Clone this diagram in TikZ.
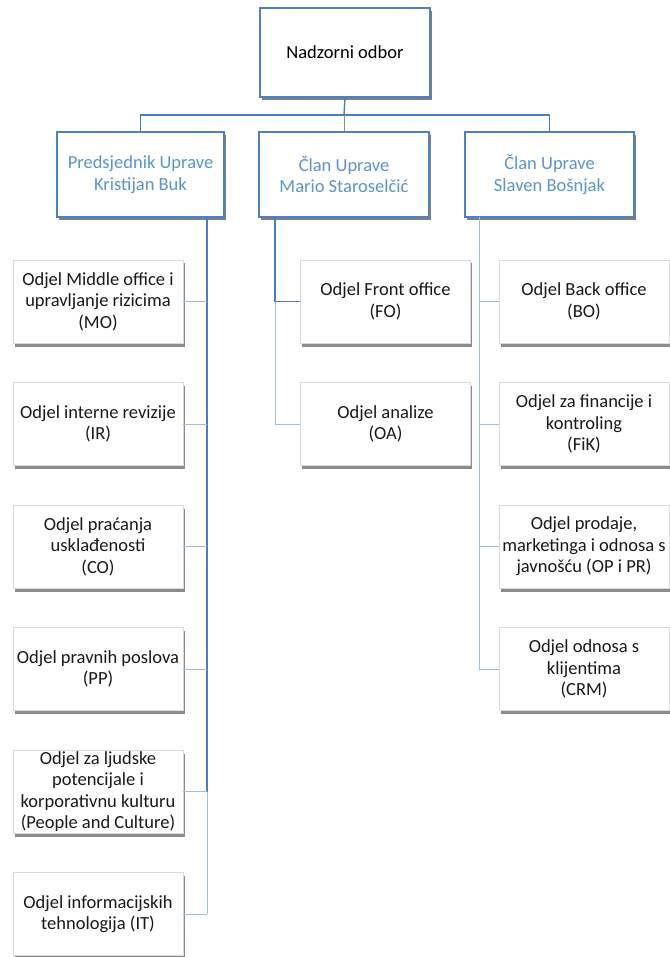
\documentclass[tikz,border=0pt]{standalone}
\usepackage{fontspec}
\setmainfont{Carlito}
\usepackage{xcolor}

\definecolor{okvir}{HTML}{4F81BD}
\definecolor{upravatekst}{HTML}{5B95CC}
\definecolor{veza}{HTML}{4A7EBB}
\definecolor{vezasvijetla}{HTML}{9DBFE3}

\begin{document}
\begin{tikzpicture}[x=1pt,y=-1pt,
	font=\fontsize{18.5}{21.5}\selectfont,
	sjena/.style={preaction={fill=black!#1,draw=none,transform canvas={xshift=1.5pt,yshift=-3.5pt}}},
	vrh/.style={draw=okvir,line width=1.6pt,fill=white,align=center,inner sep=0pt,sjena=50},
	uprava/.style={vrh,text=upravatekst,minimum height=85pt},
	odjel/.style={draw=black!14,line width=0.8pt,fill=white,align=center,inner sep=0pt,
		text=black!90,minimum width=170pt,minimum height=83pt,sjena=45},
	glavna/.style={draw=veza,line width=1.4pt},
	sporedna/.style={draw=vezasvijetla,line width=1pt}]

	\useasboundingbox (0,0) rectangle (669,957);

	\node[vrh,minimum width=170pt,minimum height=89pt] (nadzor) at (345,52.5) {Nadzorni odbor};

	\node[uprava,minimum width=167pt] (predsjednik) at (140.5,174.5) {Predsjednik Uprave\\Kristijan Buk};
	\node[uprava,minimum width=170pt] (clanmario) at (344,174.5) {Član Uprave\\Mario Staroselčić};
	\node[uprava,minimum width=169pt] (clanslaven) at (549.5,174.5) {Član Uprave\\Slaven Bošnjak};

	\node[odjel] (mo) at (98,301.5) {Odjel Middle office i\\upravljanje rizicima\\(MO)};
	\node[odjel] (ir) at (98,424) {Odjel interne revizije\\(IR)};
	\node[odjel] (co) at (98,546.5) {Odjel praćanja\\usklađenosti\\(CO)};
	\node[odjel] (pp) at (98,669) {Odjel pravnih poslova\\(PP)};
	\node[odjel] (pc) at (98,791.5) {Odjel za ljudske\\potencijale i\\korporativnu kulturu\\(People and Culture)};
	\node[odjel] (it) at (98,914) {Odjel informacijskih\\tehnologija (IT)};

	\node[odjel] (fo) at (385.5,301.5) {Odjel Front office\\(FO)};
	\node[odjel] (oa) at (385.5,424) {Odjel analize\\(OA)};

	\node[odjel] (bo) at (584,301.5) {Odjel Back office\\(BO)};
	\node[odjel] (fik) at (584,424) {Odjel za financije i\\kontroling\\(FiK)};
	\node[odjel] (op) at (584,546.5) {Odjel prodaje,\\marketinga i odnosa s\\javnošću (OP i PR)};
	\node[odjel] (crm) at (584,669) {Odjel odnosa s\\klijentima\\(CRM)};

	\coordinate (sabirnica) at (344,115);
	\coordinate (lijevo) at (207,217);
	\coordinate (sredina) at (275,217);
	\coordinate (desno) at (479,217);

	\draw[glavna] (nadzor.south) -- (sabirnica);
	\draw[glavna] (sabirnica) -| (predsjednik.north);
	\draw[glavna] (sabirnica) -| (clanslaven.north);
	\draw[draw=black!45,line width=1pt] (sabirnica) -- (clanmario.north);

	\draw[glavna] (lijevo) -- (lijevo |- pc.east);
	\draw[sporedna] (lijevo |- pc.east) -- (lijevo |- it.east);
	\draw[sporedna] (lijevo |- mo.east) -- (mo.east);
	\draw[sporedna] (lijevo |- ir.east) -- (ir.east);
	\draw[sporedna] (lijevo |- co.east) -- (co.east);
	\draw[sporedna] (lijevo |- pp.east) -- (pp.east);
	\draw[sporedna] (lijevo |- pc.east) -- (pc.east);
	\draw[sporedna] (lijevo |- it.east) -- (it.east);

	\draw[glavna] (sredina) |- (fo.west);
	\draw[sporedna] (sredina |- fo.west) |- (oa.west);

	\draw[sporedna] (desno) |- (crm.west);
	\draw[sporedna] (desno |- bo.west) -- (bo.west);
	\draw[sporedna] (desno |- fik.west) -- (fik.west);
	\draw[sporedna] (desno |- op.west) -- (op.west);
\end{tikzpicture}
\end{document}
